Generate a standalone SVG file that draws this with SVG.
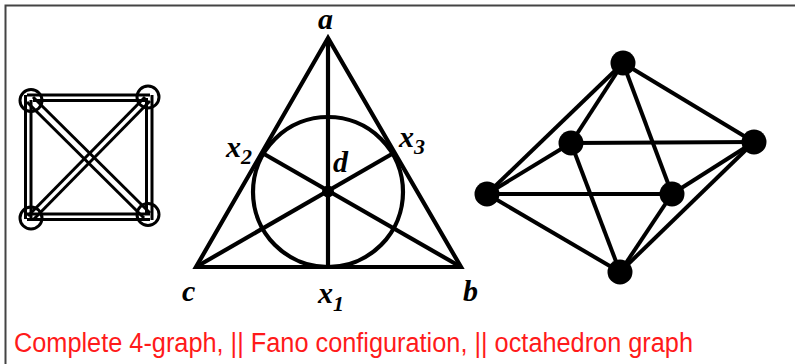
<svg xmlns="http://www.w3.org/2000/svg" width="795" height="364" viewBox="0 0 795 364">
<style>
.frame{stroke:#444;stroke-width:2;fill:none}
.k4{stroke:#000;stroke-width:3;fill:none}
.k4n{stroke:#000;stroke-width:3;fill:none}
.fano{stroke:#000;stroke-width:4.2;fill:none;stroke-linejoin:miter}
.oct{stroke:#000;stroke-width:4;fill:none}
.ocn{fill:#000}
.lbl{font-family:"Liberation Serif",serif;font-style:italic;font-weight:bold;font-size:30px;fill:#000}
.sub{font-size:22px}
.cap{font-family:"Liberation Sans",sans-serif;font-size:27px;fill:#ff1a1a}
</style>
<rect width="795" height="364" fill="#fff"/>
<path class="frame" d="M5.5,364 V5.5 H795"/>
<g id="connectors">
  <g id="k4-edges" class="k4">
    <line x1="27" y1="95" x2="150" y2="95"/><line x1="33" y1="100.5" x2="147" y2="100.5"/>
    <line x1="27" y1="214" x2="150" y2="214"/><line x1="27" y1="219.5" x2="150" y2="219.5"/>
    <line x1="25.5" y1="95" x2="25.5" y2="219"/><line x1="31" y1="100" x2="31" y2="219"/>
    <line x1="146.5" y1="98" x2="146.5" y2="215"/><line x1="152" y1="95" x2="152" y2="220"/>
    <line x1="27" y1="102" x2="144" y2="218"/><line x1="33" y1="97" x2="150" y2="213"/>
    <line x1="28" y1="216" x2="145" y2="97"/><line x1="33" y1="220" x2="150" y2="101"/>
  </g>
  <g id="fano-lines" class="fano">
    <polygon points="328,38 196,267 461,267"/>
    <line x1="328" y1="38" x2="328" y2="267"/>
    <line x1="196" y1="267" x2="394.5" y2="152.5"/>
    <line x1="461" y1="267" x2="261.5" y2="152.5"/>
    <circle cx="328" cy="192" r="75"/>
  </g>
  <g id="oct-edges" class="oct">
    <line x1="623" y1="63" x2="487" y2="194"/>
    <line x1="623" y1="63" x2="571" y2="143"/>
    <line x1="623" y1="63" x2="754" y2="142"/>
    <line x1="623" y1="63" x2="672" y2="194"/>
    <line x1="487" y1="194" x2="571" y2="143"/>
    <line x1="487" y1="194" x2="672" y2="194"/>
    <line x1="487" y1="194" x2="620" y2="272"/>
    <line x1="571" y1="143" x2="754" y2="142"/>
    <line x1="571" y1="143" x2="620" y2="272"/>
    <line x1="754" y1="142" x2="672" y2="194"/>
    <line x1="754" y1="142" x2="620" y2="272"/>
    <line x1="672" y1="194" x2="620" y2="272"/>
  </g>
</g>
<g id="k4-n1"><circle class="k4n" cx="31" cy="100.5" r="11"/></g>
<g id="k4-n2"><circle class="k4n" cx="148" cy="97" r="11"/></g>
<g id="k4-n3"><circle class="k4n" cx="31" cy="218" r="11"/></g>
<g id="k4-n4"><circle class="k4n" cx="148" cy="214.5" r="11"/></g>
<g id="fano-d"><circle cx="328" cy="191.5" r="4.5" fill="none" stroke="#000" stroke-width="3"/><text class="lbl" x="333" y="172">d</text></g>
<g id="fano-a"><text class="lbl" x="318" y="29">a</text></g>
<g id="fano-b"><text class="lbl" x="463" y="301">b</text></g>
<g id="fano-c"><text class="lbl" x="182" y="301">c</text></g>
<g id="fano-x1"><text class="lbl" x="318" y="303">x<tspan class="sub" dy="8">1</tspan></text></g>
<g id="fano-x2"><text class="lbl" x="226" y="157">x<tspan class="sub" dy="7">2</tspan></text></g>
<g id="fano-x3"><text class="lbl" x="399" y="147">x<tspan class="sub" dy="7">3</tspan></text></g>
<g id="oct-top"><circle class="ocn" cx="623" cy="63" r="12.5"/></g>
<g id="oct-ul"><circle class="ocn" cx="571" cy="143" r="12.5"/></g>
<g id="oct-right"><circle class="ocn" cx="754" cy="142" r="12.5"/></g>
<g id="oct-left"><circle class="ocn" cx="487" cy="194" r="12.5"/></g>
<g id="oct-lm"><circle class="ocn" cx="672" cy="194" r="12.5"/></g>
<g id="oct-bottom"><circle class="ocn" cx="620" cy="272" r="12.5"/></g>
<text class="cap" x="14" y="351.5" textLength="679" lengthAdjust="spacingAndGlyphs">Complete 4-graph, || Fano configuration, || octahedron graph</text>
</svg>
